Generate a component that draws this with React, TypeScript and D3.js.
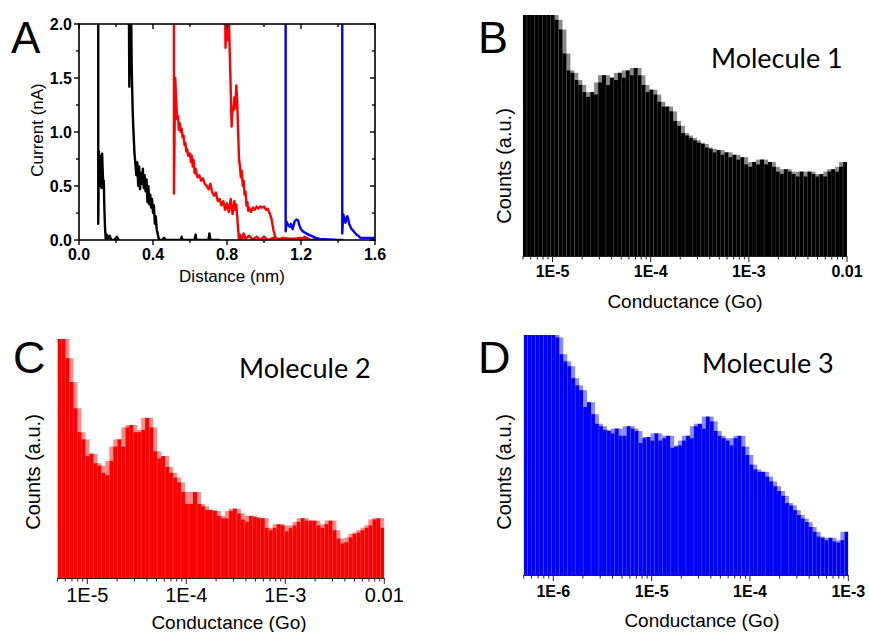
import React from "react";
import * as d3 from "d3";

// ---------- DATA ----------
// Panel A: current vs distance traces [distance (nm), current (nA)]
const blackTrace1: [number, number][] = [
  [0.104, 2.1], [0.104, 0.15], [0.108, 0.82], [0.111, 0.55], [0.113, 0.78], [0.116, 0.5], [0.119, 0.6],
  [0.122, 0.48], [0.125, 0.8], [0.128, 0.65], [0.131, 0.5], [0.134, 0.55], [0.137, 0.3], [0.141, 0.1],
  [0.145, 0.0], [0.15, 0.05], [0.155, 0.0], [0.165, 0.04], [0.175, 0.0], [0.19, 0.0], [0.205, 0.03], [0.215, 0.0],
];
const blackTrace2: [number, number][] = [
  [0.270, 2.1], [0.272, 1.42], [0.275, 2.1], [0.282, 2.1], [0.285, 1.6], [0.29, 1.2], [0.295, 0.98], [0.30, 0.8],
  [0.305, 0.7], [0.31, 0.6], [0.315, 0.72], [0.32, 0.5], [0.325, 0.68], [0.33, 0.47], [0.335, 0.62], [0.34, 0.52],
  [0.345, 0.66], [0.35, 0.48], [0.355, 0.6], [0.36, 0.45], [0.365, 0.56], [0.37, 0.35], [0.375, 0.5], [0.38, 0.33],
  [0.385, 0.42], [0.39, 0.3], [0.395, 0.38], [0.40, 0.25], [0.405, 0.32], [0.41, 0.15], [0.415, 0.22], [0.42, 0.1],
  [0.425, 0.06], [0.43, 0.02], [0.435, 0.0], [0.45, 0.0], [0.46, 0.02], [0.47, 0.0], [0.55, 0.0], [0.555, 0.03],
  [0.56, 0.0], [0.625, 0.0], [0.63, 0.05], [0.635, 0.0], [0.70, 0.0], [0.705, 0.06], [0.71, 0.0], [0.76, 0.0],
];
const redTrace1: [number, number][] = [
  [0.513, 2.1], [0.513, 0.43], [0.52, 1.5], [0.525, 1.3], [0.53, 1.12], [0.535, 1.15], [0.54, 1.02], [0.545, 1.08],
  [0.55, 1.0], [0.555, 1.03], [0.56, 0.95], [0.565, 0.97], [0.57, 0.88], [0.575, 0.9], [0.58, 0.82], [0.585, 0.84],
  [0.59, 0.78], [0.6, 0.8], [0.605, 0.72], [0.61, 0.78], [0.615, 0.68], [0.62, 0.74], [0.625, 0.62], [0.63, 0.66],
  [0.64, 0.58], [0.65, 0.6], [0.66, 0.55], [0.67, 0.57], [0.68, 0.52], [0.69, 0.5], [0.70, 0.47], [0.71, 0.52],
  [0.72, 0.44], [0.73, 0.41], [0.74, 0.44], [0.75, 0.36], [0.76, 0.38], [0.77, 0.32], [0.78, 0.36], [0.79, 0.28],
  [0.80, 0.34], [0.81, 0.26], [0.82, 0.38], [0.83, 0.24], [0.84, 0.36], [0.845, 0.28], [0.85, 0.33], [0.855, 0.22],
  [0.86, 0.1], [0.865, 0.0], [0.87, 0.05], [0.88, 0.0], [0.89, 0.06], [0.9, 0.01], [0.92, 0.04], [0.94, 0.0],
  [0.96, 0.03], [0.98, 0.0], [1.0, 0.03], [1.02, 0.0], [1.05, 0.02], [1.1, 0.0], [1.15, 0.01], [1.2, 0.0],
  [1.22, 0.03], [1.25, 0.0],
];
const redTrace2: [number, number][] = [
  [0.79, 2.1], [0.792, 1.78], [0.798, 2.1], [0.804, 1.85], [0.81, 2.1], [0.815, 1.72], [0.82, 1.4], [0.825, 1.05],
  [0.83, 1.22], [0.835, 1.2], [0.84, 1.32], [0.845, 1.22], [0.85, 1.43], [0.855, 1.3], [0.86, 1.0], [0.865, 0.75],
  [0.87, 0.68], [0.875, 0.58], [0.88, 0.64], [0.885, 0.5], [0.89, 0.55], [0.895, 0.42], [0.90, 0.45], [0.905, 0.32],
  [0.91, 0.35], [0.915, 0.27], [0.92, 0.3], [0.93, 0.26], [0.94, 0.3], [0.95, 0.28], [0.96, 0.31], [0.97, 0.29],
  [0.98, 0.31], [0.99, 0.3], [1.00, 0.31], [1.01, 0.28], [1.02, 0.29], [1.03, 0.25], [1.04, 0.2], [1.05, 0.1],
  [1.06, 0.03], [1.07, 0.0], [1.1, 0.02], [1.15, 0.01], [1.2, 0.02], [1.25, 0.0], [1.3, 0.01], [1.32, 0.0],
];
const blueTrace1: [number, number][] = [
  [1.117, 2.1], [1.117, 0.08], [1.122, 0.17], [1.13, 0.14], [1.14, 0.12], [1.145, 0.15], [1.155, 0.1], [1.165, 0.17],
  [1.175, 0.19], [1.185, 0.18], [1.19, 0.14], [1.2, 0.1], [1.21, 0.08], [1.22, 0.07], [1.24, 0.05], [1.26, 0.035],
  [1.28, 0.02], [1.3, 0.01], [1.35, 0.005], [1.4, 0.0], [1.43, 0.0],
];
const blueTrace2: [number, number][] = [
  [1.423, 2.1], [1.423, 0.06], [1.428, 0.24], [1.435, 0.2], [1.44, 0.16], [1.45, 0.22], [1.455, 0.2], [1.46, 0.15],
  [1.47, 0.11], [1.48, 0.09], [1.49, 0.07], [1.5, 0.05], [1.51, 0.04], [1.52, 0.02], [1.55, 0.02], [1.6, 0.02],
];
const distanceTicks = [0, 0.4, 0.8, 1.2, 1.6];
const currentTicks = [0, 0.5, 1.0, 1.5, 2.0];

// Panels B, C, D: conductance histograms (counts, a.u.; 100 = top of frame), log-spaced bins
const molecule1Domain: [number, number] = [5e-6, 1e-2];
const molecule1Counts = [
  110, 110, 110, 110, 110, 110, 110, 110, 98, 94, 84, 77, 76, 73, 71, 68, 66, 68, 67, 72,
  75, 71, 74, 73, 76, 74, 77, 75, 78, 75, 71, 68, 69, 67, 64, 62, 62, 60, 56, 54,
  51, 50, 49, 48, 47, 46.5, 45, 44.5, 43, 44, 42, 43, 41, 42, 40, 41, 38, 37, 39, 38,
  40, 38, 39, 37, 35, 34, 36, 35, 34, 33, 35, 33, 35, 34, 33, 34, 33, 35, 36, 35,
  37, 39,
];
const molecule1TickValues = [1e-5, 1e-4, 1e-3, 1e-2];
const molecule1TickLabels = ["1E-5", "1E-4", "1E-3", "0.01"];

const molecule2Domain: [number, number] = [5e-6, 1e-2];
const molecule2Counts = [
  105, 100, 92, 82, 71, 61, 58, 51, 52, 48, 47, 44, 43, 49, 55, 58, 55, 63, 64, 61,
  61, 62, 67, 63, 53, 50, 51, 46.5, 44, 42, 40, 36, 31, 31, 36, 31, 30, 28.5, 28.5, 28,
  26, 25, 25, 28, 29, 27, 24.5, 23.5, 26, 25.5, 25, 25, 21, 20, 21, 22.5, 22, 19.5, 21, 22,
  23.5, 25, 24, 24, 24, 22, 21, 22.5, 24, 20, 16.5, 14.5, 15, 17, 18.5, 19, 20, 21, 22, 24.5,
  25, 21,
];
const molecule2TickValues = [1e-5, 1e-4, 1e-3, 1e-2];
const molecule2TickLabels = ["1E-5", "1E-4", "1E-3", "0.01"];

const molecule3Domain: [number, number] = [5e-7, 1e-3];
const molecule3Counts = [
  110, 110, 110, 110, 110, 110, 110, 110, 99, 92, 89, 87, 82, 79, 77, 70, 72, 67, 63, 62,
  60.5, 60, 59, 61, 58, 58, 62, 61, 60, 55, 57, 57.5, 56, 59, 56, 57, 58, 53, 53.5, 54,
  56, 58, 57, 62, 63, 61, 66, 64, 60, 58, 57, 56, 54, 57, 58, 53.5, 50, 46, 44, 43,
  43, 41, 39, 37, 35, 33, 30, 29, 27, 25, 23.5, 22, 20, 18, 16, 15.5, 14.5, 15.5, 14, 13.5,
  14.5, 18,
];
const molecule3TickValues = [1e-6, 1e-5, 1e-4, 1e-3];
const molecule3TickLabels = ["1E-6", "1E-5", "1E-4", "1E-3"];

// ---------- COMPONENTS ----------
const SANS = "'Liberation Sans', Arial, sans-serif";
const CAL = "Lato, 'Open Sans', sans-serif";

type HistProps = {
  id: string;
  values: number[];
  domain: [number, number];
  x0: number; x1: number; y0: number; y1: number;
  color: string; light: string; gap: string;
  tickValues: number[]; tickLabels: string[];
  tickY: number; tickSize: number; tickWeight: string | number;
};

function LogHist(p: HistProps) {
  const x = d3.scaleLog().domain(p.domain).range([p.x0, p.x1]);
  const y = d3.scaleLinear().domain([0, 100]).range([p.y1, p.y0]);
  const n = p.values.length;
  const l0 = Math.log10(p.domain[0]);
  const l1 = Math.log10(p.domain[1]);
  const edges = d3.range(n + 1).map((i) => Math.pow(10, l0 + ((l1 - l0) * i) / n));
  const minor: { v: number; major: boolean }[] = [];
  for (let e = Math.floor(l0); e <= Math.ceil(l1); e++) {
    for (let m = 1; m <= 9; m++) {
      const v = m * Math.pow(10, e);
      if (v >= p.domain[0] * 0.999 && v <= p.domain[1] * 1.001) minor.push({ v, major: m === 1 });
    }
  }
  const clipId = "clip-" + p.id;
  return (
    <g>
      <defs>
        <clipPath id={clipId}>
          <rect x={p.x0} y={p.y0} width={p.x1 - p.x0} height={p.y1 - p.y0} />
        </clipPath>
      </defs>
      <g clipPath={`url(#${clipId})`}>
        {p.values.map((v, i) => {
          const hi = Math.max(v, p.values[i - 1] ?? v, p.values[i + 1] ?? v);
          const xl = x(edges[i]);
          const xr = x(edges[i + 1]);
          return <rect key={"l" + i} x={xl} y={y(hi)} width={xr - xl} height={p.y1 - y(hi)} fill={p.light} />;
        })}
        {p.values.map((v, i) => {
          const xl = x(edges[i]);
          const xr = x(edges[i + 1]);
          return <rect key={"s" + i} x={xl} y={y(v)} width={xr - xl} height={p.y1 - y(v)} fill={p.color} />;
        })}
        {p.values.map((v, i) =>
          i % 2 === 1 ? (
            <rect key={"g" + i} x={x(edges[i]) - 0.25} y={y(v)} width={0.5} height={p.y1 - y(v)} fill={p.gap} />
          ) : null
        )}
      </g>
      <line x1={p.x0} x2={p.x1} y1={p.y1 + 0.5} y2={p.y1 + 0.5} stroke="#222" strokeWidth={1} />
      {minor.map((t, i) => (
        <line key={"t" + i} x1={x(t.v)} x2={x(t.v)} y1={p.y1} y2={p.y1 + (t.major ? 6 : 3.5)} stroke="#222" strokeWidth={1} />
      ))}
      {p.tickValues.map((v, i) => (
        <text key={"tl" + i} x={x(v)} y={p.tickY} textAnchor="middle" fontFamily={SANS}
          fontSize={p.tickSize} fontWeight={p.tickWeight} fill="#000">
          {p.tickLabels[i]}
        </text>
      ))}
    </g>
  );
}

function PanelA() {
  const x0 = 79, x1 = 375, y0 = 24, y1 = 240;
  const x = d3.scaleLinear().domain([0, 1.6]).range([x0, x1]);
  const y = d3.scaleLinear().domain([0, 2]).range([y1, y0]);
  const line = d3.line<[number, number]>().x((d) => x(d[0])).y((d) => y(d[1]));
  const traces: { d: [number, number][]; c: string }[] = [
    { d: blackTrace1, c: "#000" },
    { d: blackTrace2, c: "#000" },
    { d: redTrace1, c: "#ff0000" },
    { d: redTrace2, c: "#ff0000" },
    { d: blueTrace1, c: "#0000ff" },
    { d: blueTrace2, c: "#0000ff" },
  ];
  const xMinor = d3.range(0, 1.6001, 0.2);
  const yMinor = d3.range(0, 2.0001, 0.25);
  const fmt = d3.format(".1f");
  return (
    <g>
      <defs>
        <clipPath id="clipA">
          <rect x={x0} y={y0} width={x1 - x0} height={y1 - y0} />
        </clipPath>
      </defs>
      <g clipPath="url(#clipA)">
        {traces.map((t, i) => (
          <path key={i} d={line(t.d) || ""} fill="none" stroke={t.c} strokeWidth={2.4} strokeLinejoin="round" />
        ))}
      </g>
      <rect x={x0} y={y0} width={x1 - x0} height={y1 - y0} fill="none" stroke="#000" strokeWidth={1.6} />
      {xMinor.map((v, i) => {
        const major = Math.abs(v / 0.4 - Math.round(v / 0.4)) < 1e-6;
        return (
          <g key={"x" + i}>
            <line x1={x(v)} x2={x(v)} y1={y1} y2={y1 + (major ? 5 : 3)} stroke="#000" strokeWidth={1.4} />
            <line x1={x(v)} x2={x(v)} y1={y0} y2={y0 + (major ? 5 : 3)} stroke="#000" strokeWidth={1.4} />
          </g>
        );
      })}
      {yMinor.map((v, i) => {
        const major = Math.abs(v / 0.5 - Math.round(v / 0.5)) < 1e-6;
        return (
          <g key={"y" + i}>
            <line x1={x0} x2={x0 - (major ? 5 : 3)} y1={y(v)} y2={y(v)} stroke="#000" strokeWidth={1.4} />
            <line x1={x1} x2={x1 - (major ? 5 : 3)} y1={y(v)} y2={y(v)} stroke="#000" strokeWidth={1.4} />
          </g>
        );
      })}
      {distanceTicks.map((v, i) => (
        <text key={"xl" + i} x={x(v)} y={260} textAnchor="middle" fontFamily={SANS} fontSize={16} fontWeight="bold">
          {fmt(v)}
        </text>
      ))}
      {currentTicks.map((v, i) => (
        <text key={"yl" + i} x={x0 - 7} y={y(v) + 5.5} textAnchor="end" fontFamily={SANS} fontSize={16} fontWeight="bold">
          {fmt(v)}
        </text>
      ))}
      <text x={(x0 + x1) / 2 + 5} y={282} textAnchor="middle" fontFamily={SANS} fontSize={17}>
        Distance (nm)
      </text>
      <text transform={`translate(43,130) rotate(-90)`} textAnchor="middle" fontFamily={SANS} fontSize={17}>
        Current (nA)
      </text>
      <text x={11} y={53} fontFamily={SANS} fontSize={44}>A</text>
    </g>
  );
}

export default function App() {
  return (
    <svg width={869} height={632} style={{ position: "absolute", left: 0, top: 0, background: "#fff" }}>
      <rect width={869} height={632} fill="#fff" />
      <PanelA />

      <LogHist id="b" values={molecule1Counts} domain={molecule1Domain}
        x0={523} x1={847} y0={15} y1={256} color="#000" light="#8a8a8a" gap="#555"
        tickValues={molecule1TickValues} tickLabels={molecule1TickLabels}
        tickY={277} tickSize={16} tickWeight="bold" />
      <text x={478} y={53} fontFamily={SANS} fontSize={45}>B</text>
      <text x={711} y={68} fontFamily={CAL} fontSize={27}>Molecule 1</text>
      <text transform="translate(511,166) rotate(-90)" textAnchor="middle" fontFamily={SANS} fontSize={20}>Counts (a.u.)</text>
      <text x={685} y={308} textAnchor="middle" fontFamily={SANS} fontSize={19}>Conductance (Go)</text>

      <LogHist id="c" values={molecule2Counts} domain={molecule2Domain}
        x0={57.5} x1={384.3} y0={339} y1={578} color="#ff0000" light="#ff8a8a" gap="#ff6060"
        tickValues={molecule2TickValues} tickLabels={molecule2TickLabels}
        tickY={602} tickSize={20} tickWeight="normal" />
      <text x={13} y={373} fontFamily={SANS} fontSize={45}>C</text>
      <text x={239} y={378} fontFamily={CAL} fontSize={27}>Molecule 2</text>
      <text transform="translate(40,472) rotate(-90)" textAnchor="middle" fontFamily={SANS} fontSize={20}>Counts (a.u.)</text>
      <text x={229} y={629} textAnchor="middle" fontFamily={SANS} fontSize={19}>Conductance (Go)</text>

      <LogHist id="d" values={molecule3Counts} domain={molecule3Domain}
        x0={523.7} x1={848.3} y0={335} y1={575} color="#0000ff" light="#8a8aff" gap="#5a5aff"
        tickValues={molecule3TickValues} tickLabels={molecule3TickLabels}
        tickY={597} tickSize={16} tickWeight="bold" />
      <text x={478} y={373} fontFamily={SANS} fontSize={45}>D</text>
      <text x={702} y={373} fontFamily={CAL} fontSize={27}>Molecule 3</text>
      <text transform="translate(511,472) rotate(-90)" textAnchor="middle" fontFamily={SANS} fontSize={20}>Counts (a.u.)</text>
      <text x={702} y={627} textAnchor="middle" fontFamily={SANS} fontSize={19}>Conductance (Go)</text>
    </svg>
  );
}
